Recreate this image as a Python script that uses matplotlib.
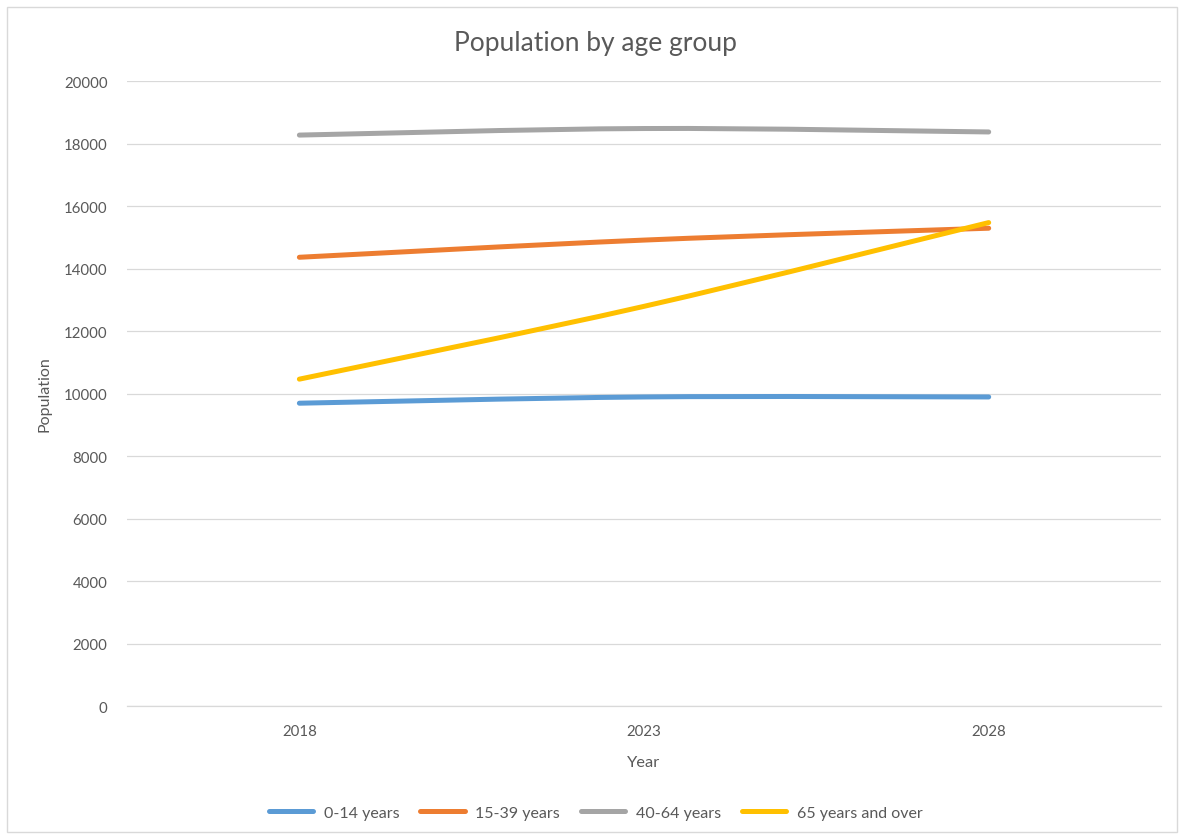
import matplotlib
matplotlib.use("Agg")
import matplotlib.pyplot as plt
from matplotlib.path import Path
from matplotlib.patches import PathPatch, Rectangle
from matplotlib.lines import Line2D

plt.rcParams['font.family'] = ['Lato', 'DejaVu Sans']

years = ["2018", "2023", "2028"]
series_names = ["0-14 years", "15-39 years", "40-64 years", "65 years and over"]
age_0_14 = [9690, 9890, 9890]
age_15_39 = [14360, 14910, 15290]
age_40_64 = [18270, 18480, 18370]
age_65_plus = [10460, 12790, 15470]
series_values = [age_0_14, age_15_39, age_40_64, age_65_plus]
colors = ["#5B9BD5", "#ED7D31", "#A5A5A5", "#FFC000"]
y_ticks = [0, 2000, 4000, 6000, 8000, 10000, 12000, 14000, 16000, 18000, 20000]


def smooth_path(xs, ys):
    """Cubic Bezier through the points, with spreadsheet-style smoothing."""
    pts = list(zip(xs, ys))
    n = len(pts)
    verts = [pts[0]]
    codes = [Path.MOVETO]
    for i in range(n - 1):
        p_prev = pts[i - 1] if i > 0 else pts[i]
        p0 = pts[i]
        p1 = pts[i + 1]
        p_next = pts[i + 2] if i + 2 < n else pts[i + 1]
        c1 = (p0[0] + (p1[0] - p_prev[0]) / 6, p0[1] + (p1[1] - p_prev[1]) / 6)
        c2 = (p1[0] - (p_next[0] - p0[0]) / 6, p1[1] - (p_next[1] - p0[1]) / 6)
        verts += [c1, c2, p1]
        codes += [Path.CURVE4, Path.CURVE4, Path.CURVE4]
    return Path(verts, codes)


fig = plt.figure(figsize=(11.84, 8.37), dpi=100)
ax = fig.add_axes([0.1073, 0.1553, 0.8733, 0.7467])

x = list(range(len(years)))
handles = []
for name, vals, col in zip(series_names, series_values, colors):
    patch = PathPatch(smooth_path(x, vals), facecolor="none", edgecolor=col,
                      linewidth=3.6, capstyle="round", joinstyle="round", zorder=3)
    ax.add_patch(patch)
    handles.append(Line2D([], [], color=col, linewidth=3.6, solid_capstyle="round"))

ax.set_xlim(-0.5, len(years) - 0.5)
ax.set_ylim(0, 20000)
ax.set_xticks(x)
ax.set_xticklabels(years)
ax.set_yticks(y_ticks)
ax.set_yticklabels([str(v) for v in y_ticks])

ax.grid(axis="y", color="#D9D9D9", linewidth=0.9)
ax.set_axisbelow(True)
for side in ["top", "right", "left"]:
    ax.spines[side].set_visible(False)
ax.spines["bottom"].set_color("#D9D9D9")
ax.spines["bottom"].set_linewidth(0.9)
ax.tick_params(axis="both", length=0, colors="#595959", labelsize=10.8)
ax.tick_params(axis="y", pad=14)
ax.tick_params(axis="x", pad=13)

ax.set_xlabel("Year", color="#595959", fontsize=11.8, labelpad=12)
ax.set_ylabel("Population", color="#595959", fontsize=11.5, labelpad=9)

fig.text(0.5025, 0.948, "Population by age group", ha="center", va="center",
         fontsize=19, color="#595959")

fig.legend(handles, series_names, loc="center", bbox_to_anchor=(0.503, 0.028),
           ncol=4, frameon=False, fontsize=11.5, labelcolor="#595959",
           handlelength=2.8, columnspacing=1.3, handletextpad=0.65)

fig.add_artist(Rectangle((0.006, 0.005), 0.988, 0.985, transform=fig.transFigure,
                         facecolor="none", edgecolor="#D9D9D9", linewidth=1.0))

fig.savefig("out.png", dpi=100)
